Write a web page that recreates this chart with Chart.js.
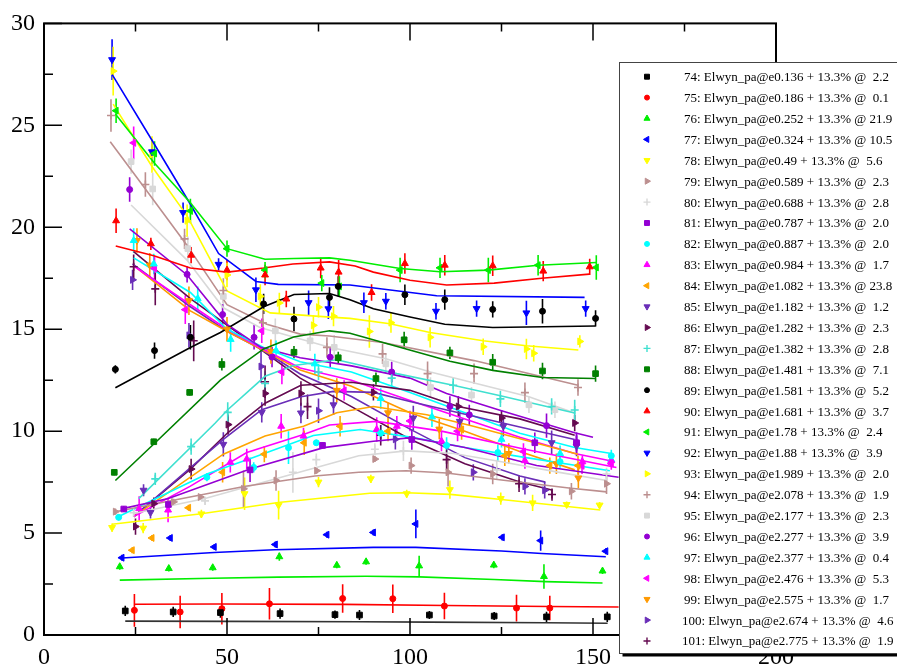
<!DOCTYPE html>
<html>
<head>
<meta charset="utf-8">
<script src="https://cdn.jsdelivr.net/npm/chart.js@4.4.1/dist/chart.umd.min.js"></script>
<style>
  html, body { margin: 0; padding: 0; background: #fff; }
  #wrap { position: relative; width: 897px; height: 666px; }
</style>
</head>
<body>
<div id="wrap"><canvas id="xsChart"></canvas></div>
<script>
// measured points: [angle, value, error]; fit curves: [angle, value]
const d74 = [[22.2,1.18,0.25],[35.3,1.13,0.25],[48.2,1.1,0.25],[64.5,1.05,0.25],[79.5,1.0,0.2],[86.2,0.98,0.25],[105.3,0.98,0.2],[123,0.93,0.2],[137.3,0.89,0.25],[153.9,0.89,0.25]];
const f74 = [[22.2,0.68],[50,0.67],[86,0.65],[105,0.63],[137,0.6],[154,0.58]];
const d75 = [[24.7,1.21,0.8],[37.2,1.13,0.8],[48.6,1.29,0.77],[61.6,1.53,0.77],[81.6,1.79,0.7],[95.3,1.78,0.7],[109.4,1.42,0.65],[129.1,1.32,0.66],[138.2,1.32,0.6]];
const f75 = [[24.7,1.51],[48,1.52],[82,1.5],[110,1.45],[138,1.4],[157,1.37]];
const d76 = [[20.7,3.35,0.15],[34.1,3.26,0.15],[46.1,3.3,0.15],[64.3,3.84,0.2],[80,3.42,0.15],[88,3.59,0.15],[102.5,3.39,0.5],[122.9,3.43,0.15],[136.6,2.87,0.6],[152.6,3.14,0.15]];
const f76 = [[20.7,2.69],[46,2.78],[64,2.84],[88,2.88],[102.5,2.85],[123,2.72],[137,2.62],[152.6,2.55]];
const d77 = [[21.3,3.79,0.15],[34.5,4.76,0.15],[46.5,4.32,0.12],[63.2,4.44,0.15],[77.3,4.92,0.15],[90,5.03,0.15],[101.6,5.45,0.7],[125.2,4.79,0.15],[135.7,4.63,0.5],[153.5,4.11,0.15]];
const f77 = [[21.3,3.78],[46.5,4.05],[63,4.18],[90,4.3],[101.6,4.3],[125,4.12],[136,4.0],[153.5,3.84]];
const d78 = [[18.6,5.27,0.2],[27.1,5.24,0.25],[43,5.94,0.2],[54.8,6.93,0.8],[64.1,6.37,0.7],[75,7.5,0.25],[89.3,7.66,0.2],[99.1,6.93,0.2],[110.9,7.13,0.45],[124.8,6.69,0.3],[133.5,6.48,0.4],[142.8,6.4,0.15],[151.8,6.37,0.15]];
const f78 = [[18.6,5.43],[43,5.95],[64,6.5],[89,6.95],[99,6.98],[111,6.9],[125,6.65],[143,6.3],[152,6.13]];
const d79 = [[19.5,6.05,0.15],[35.4,6.53,0.15],[42.7,6.77,0.15],[54.5,7.17,0.9],[63.4,7.58,0.5],[74.5,8.06,0.15],[90.4,8.63,0.15],[100.3,8.31,0.4],[110.4,7.98,0.7],[122.6,7.9,0.5],[144.1,7.05,0.4],[153.7,7.42,0.5]];
const f79 = [[19.5,6.05],[35,6.6],[55,7.3],[74,7.8],[86,7.98],[99,8.06],[110,7.95],[125,7.6],[144,7.2],[153.7,7.02]];
const d80 = [[24.5,6.0,0.2],[44,6.58,0.2],[68,7.98,1.0],[74.4,8.6,0.3],[90.4,9.11,0.3],[98.2,9.03,0.5],[123.7,8.1,0.5],[153.7,7.9,0.3]];
const f80 = [[24.5,5.96],[44,6.7],[68,7.9],[86,8.79],[99,9.03],[112,8.9],[125,8.5],[140,8.0],[153.7,7.58]];
const d81 = [[21.8,6.18,0.15],[34,6.4,0.2],[56.3,8.1,0.6],[76.1,9.3,0.15],[100.5,9.59,0.5],[134.1,9.43,0.5],[145.5,9.43,0.4]];
const f81 = [[21.8,6.21],[34,6.7],[56.3,8.14],[76.4,9.19],[90,9.5],[100.5,9.68],[115,9.2],[134.6,8.31],[157,7.74]];
const d82 = [[20.4,5.77,0.15],[44.5,7.74,0.2],[57.3,8.22,0.25],[66.8,9.19,0.8],[74.4,9.43,0.15],[92,9.9,0.4],[110,9.3,0.4],[124,8.95,0.4],[141,8.5,0.3],[155,8.79,0.3]];
const f82 = [[20.4,5.81],[44.5,7.9],[57,8.7],[73.6,9.79],[86.4,10.08],[101,9.68],[115,9.2],[130,8.75],[154.6,8.06]];
const d83 = [[26,6.2,0.6],[33.9,6.13,0.6],[50.9,8.47,0.5],[55.4,8.63,0.5],[64.8,10.24,0.6],[70.9,9.76,0.4],[90.9,10.08,0.6],[96.4,10.24,0.5],[108.6,9.51,0.5],[131.4,8.55,0.4],[147.1,8.5,0.3],[155,8.55,0.3]];
const f83 = [[24.5,5.81],[40,7.3],[55.4,8.95],[70.9,9.84],[78,10.3],[90.9,10.48],[108.6,10.0],[131.4,9.11],[156.4,8.22]];
const d84 = [[24.1,4.16,0.15],[29.5,4.76,0.15],[39.5,6.24,0.15],[48.8,7.98,0.5],[60.2,8.87,0.4],[71.1,9.43,0.6],[80.9,10.24,0.5],[94,10.0,0.5],[114.1,10.08,0.5],[125.9,8.79,0.5],[138.2,8.31,0.4],[145.9,8.31,0.5]];
const f84 = [[24.5,5.81],[49,8.87],[60.4,9.76],[70.9,10.24],[80,10.9],[90,11.21],[104.6,10.8],[117.3,10.24],[145.9,8.87]];
const d85 = [[27.2,7.1,0.3],[29.1,6.01,0.3],[49,9.35,0.6],[59.5,10.92,0.5],[70.2,10.89,0.5],[79.1,11.29,0.5],[100.9,10.64,0.6],[113.6,10.48,0.5],[125.5,10.24,0.5],[138.7,9.43,0.6],[145.5,9.27,0.5]];
const f85 = [[24.5,5.81],[49,9.59],[59.5,11.05],[70.2,11.69],[79.1,11.95],[90,11.9],[100,11.45],[113.6,10.89],[130,10.2],[145,9.59]];
const d86 = [[25,5.32,0.4],[30,6.45,0.3],[40.2,8.14,0.5],[50.3,10.32,0.5],[60.4,11.85,0.6],[70.2,11.85,0.6],[90,11.9,0.4],[113.2,11.21,0.5],[125,10.64,0.4],[145,10.4,0.4]];
const f86 = [[24.5,5.81],[40,8.14],[50.2,9.92],[60.4,11.37],[70.2,12.25],[84,12.4],[100,12.0],[113.2,11.21],[130,10.6],[145,9.8]];
const d87 = [[30.4,7.66,0.3],[40.2,9.24,0.4],[50.2,10.92,0.5],[60.4,12.34,0.6],[75,12.9,0.4],[95,12.6,0.4],[111.8,12.25,0.4],[124.7,11.58,0.4],[138.7,11.21,0.4],[145,11.04,0.5]];
const f87 = [[25.9,6.69],[46.8,10.4],[50.2,11.05],[60.4,12.69],[68.2,13.22],[80,13.5],[96.4,12.82],[111.8,12.25],[124.7,11.74],[145,10.89]];
const d88 = [[19.2,7.98,0.15],[30,9.48,0.15],[39.8,11.9,0.15],[48.6,13.27,0.3],[68.3,13.87,0.3],[80.4,13.6,0.3],[90.7,12.58,0.3],[98.4,14.48,0.4],[110.9,13.84,0.3],[122.6,13.38,0.4],[136.2,12.95,0.4],[150.7,12.82,0.4]];
const f88 = [[19.5,7.58],[31.3,9.59],[48.2,12.5],[60,14.03],[68.2,14.62],[78,14.92],[83.6,14.8],[90.9,14.43],[110.9,13.43],[122.6,12.98],[136.2,12.63],[150.7,12.58]];
const d89 = [[19.5,13.03,0.2],[30.2,13.95,0.4],[40,14.6,0.6],[60,16.24,0.5],[68.3,15.5,0.6],[78,16.56,0.5],[80.4,17.1,0.5],[98.6,16.69,0.5],[109.5,16.45,0.5],[122.6,15.97,0.4],[136.2,15.88,0.6],[150.7,15.53,0.4]];
const f89 = [[19.5,12.13],[40,14.1],[48.2,14.84],[60,16.1],[68.3,16.7],[78,16.75],[83.6,16.45],[90,16.0],[100,15.6],[109.5,15.24],[122.6,15.08],[150.7,15.16]];
const d90 = [[19.7,20.32,0.6],[29.2,19.19,0.3],[40.2,18.63,0.4],[50,17.9,0.5],[60.4,17.66,0.5],[66.2,16.48,0.4],[75.6,18.0,0.5],[80.5,17.8,0.6],[89.5,16.8,0.4],[98.6,18.22,0.5],[109.5,18.14,0.5],[122.6,18.11,0.5],[136.4,17.85,0.5],[149.1,18.06,0.4]];
const f90 = [[19.6,19.08],[30,18.6],[40,18.0],[50,17.8],[60,18.0],[68,18.2],[78,18.3],[85,18.1],[90,17.8],[100,17.4],[110,17.17],[123,17.26],[136,17.5],[149,17.7]];
const d91 = [[19.7,25.72,0.6],[30.2,23.62,0.6],[40,20.8,0.6],[50,18.95,0.4],[60.4,17.9,0.4],[75.9,17.26,0.4],[80.7,17.1,0.5],[97.3,17.9,0.6],[108.2,18.01,0.5],[121.4,17.9,0.6],[135,18.14,0.5],[150.9,18.03,0.6]];
const f91 = [[19.5,25.56],[30.2,23.14],[40,21.2],[50,18.95],[60.4,18.43],[68.3,18.47],[78,18.5],[83.6,18.38],[97.3,17.98],[108.2,17.82],[121.4,17.9],[135,18.14],[150.9,18.27]];
const d92 = [[18.6,28.22,1.0],[29.5,23.7,0.6],[38,20.72,0.5],[47.7,18.18,0.3],[57.9,16.93,0.6],[72.3,16.3,0.6],[77.7,16.0,0.5],[87.4,16.3,0.5],[93.4,16.37,0.4],[107.1,15.88,0.4],[118.2,16.01,0.4],[131.8,15.8,0.6],[148,16.01,0.4]];
const f92 = [[18.6,27.5],[29.5,24.27],[40,21.13],[47.7,18.71],[57.9,17.34],[64,17.2],[83.6,17.17],[107.3,16.64],[147.7,16.56]];
const d93 = [[18.9,27.66,1.2],[29.5,23.57,0.9],[39.1,20.32,0.8],[50,17.66,0.6],[59.1,16.61,0.6],[64.3,16.29,0.5],[73.6,15.19,0.5],[75,16.08,0.5],[79.1,15.64,0.5],[88.9,14.89,0.8],[94.8,15.32,0.5],[105.5,14.6,0.5],[120,14.14,0.4],[131.8,14.03,0.5],[133.8,13.82,0.4],[146.4,14.4,0.3]];
const f93 = [[18.9,26.04],[29.5,22.98],[39.1,20.56],[50,16.88],[61.8,15.8],[78.2,15.59],[83.6,15.53],[94.5,15.27],[105.5,14.84],[120,14.43],[131.8,14.19],[146,13.98]];
const d94 = [[18.3,25.48,0.8],[27.7,22.1,0.6],[38.4,19.43,0.5],[49,16.9,0.6],[59.8,15.32,0.6],[77.3,14.11,0.5],[92.5,13.79,0.5],[104.8,12.82,0.6],[117.5,12.82,0.5],[131.4,11.89,0.5],[145.9,12.14,0.4]];
const f94 = [[18.1,24.19],[27.2,22.0],[39.1,19.11],[50,16.2],[60.9,15.24],[70,14.76],[78,14.67],[92.5,14.35],[117.5,13.46],[145.9,12.25]];
const d95 = [[23.8,23.22,0.6],[29.7,21.88,0.8],[39.3,18.95,0.6],[49,16.61,0.6],[63.2,14.92,0.6],[72.7,14.43,0.5],[79.3,14.11,0.6],[93.4,13.3,0.5],[105.6,12.14,0.5],[116.8,11.77,0.4],[132.5,11.29,0.4],[139.6,11.05,0.4]];
const f95 = [[23.8,21.09],[39,18.4],[49,16.05],[59,15.08],[78,14.11],[93.4,13.55],[105.6,12.9],[132.5,11.69],[145,10.89]];
const d96 = [[23.4,21.85,0.6],[39.1,17.69,0.4],[48.8,15.72,0.5],[57.4,14.6,0.6],[62.3,13.63,0.5],[78.2,13.63,0.5],[95,12.9,0.5],[110.9,11.21,0.5],[116.2,10.8,0.5],[137.3,10.27,0.6],[145.5,9.43,0.5]];
const f96 = [[23.4,19.92],[39.1,17.66],[50,15.24],[59.3,14.11],[70,13.6],[84,13.2],[100,12.6],[110,11.85],[125,11.0],[145,9.92],[150,9.7]];
const d97 = [[24.5,19.35,0.6],[30,18.2,0.5],[42,16.5,0.6],[51,14.5,0.6],[63.4,13.95,0.5],[74,13.3,0.5],[92,11.6,0.5],[106,10.7,0.5],[125,9.6,0.4],[141,8.9,0.4],[155,8.6,0.3]];
const f97 = [[24.5,18.5],[40,16.8],[50,15.0],[60,14.1],[70,13.4],[84,12.9],[100,11.9],[115,10.9],[130,9.9],[145,9.2],[155,8.9]];
const d98 = [[24.5,24.14,0.8],[30.2,17.98,0.6],[38.6,15.96,0.7],[59.5,14.92,0.6],[65,12.9,0.6],[82,12.0,0.5],[100,10.5,0.5],[113,10.0,0.5],[131,9.0,0.4],[147,8.3,0.4],[155,8.4,0.3]];
const f98 = [[24.5,18.1],[40,16.2],[50,15.0],[59,14.1],[70,13.1],[84,12.5],[100,11.5],[115,10.6],[130,9.7],[145,8.9],[156,8.5]];
const d99 = [[25.4,19.35,0.6],[28.9,18.14,0.6],[39.6,16.4,0.7],[50,15.0,0.6],[62,13.9,0.6],[80,12.0,0.6],[94,10.9,0.5],[108,10.1,0.5],[127,8.9,0.5],[140,8.4,0.5],[146,7.7,0.5]];
const f99 = [[25.4,18.0],[40,15.9],[50,14.9],[59,14.05],[70,13.0],[84,12.2],[100,10.9],[115,10.0],[130,9.0],[145,8.1]];
const d100 = [[24.2,17.42,0.5],[39.6,14.7,0.6],[59.3,13.17,0.8],[75,11.0,0.6],[96,9.6,0.5],[117.3,7.98,0.4],[131.4,7.29,0.4],[136.8,7.1,0.4]];
const f100 = [[24.2,18.2],[40,16.1],[50,14.9],[59,14.05],[70,12.8],[84,11.7],[100,10.1],[115,8.7],[130,7.8],[137,7.5]];
const d101 = [[24.5,18.06,0.6],[30.4,16.98,0.8],[40.9,14.43,1.0],[60.4,12.42,0.8],[72,11.2,0.6],[92,9.8,0.5],[110,8.6,0.5],[129.8,7.42,0.4],[138.8,6.89,0.3]];
const f101 = [[24.5,18.8],[40,16.5],[50,15.2],[59,14.03],[70,12.6],[84,11.2],[100,9.6],[115,8.4],[130,7.5],[139,7.1]];

const runIds = [74,75,76,77,78,79,80,81,82,83,84,85,86,87,88,89,90,91,92,93,94,95,96,97,98,99,100,101];
const energies = ['0.136','0.186','0.252','0.324','0.49','0.589','0.688','0.787','0.887','0.984','1.082','1.182','1.282','1.382','1.481','1.581','1.681','1.78','1.88','1.989','2.078','2.177','2.277','2.377','2.476','2.575','2.674','2.775'];
const chiValues = [2.2,0.1,21.9,10.5,5.6,2.3,2.8,2.0,2.0,1.7,23.8,1.2,2.3,2.8,7.1,5.2,3.7,2.4,3.9,2.0,1.9,2.3,3.9,0.4,5.3,1.7,4.6,1.9];
const xTicks = [0, 50, 100, 150, 200];
const yTicks = [0, 5, 10, 15, 20, 25, 30];

const points = [d74,d75,d76,d77,d78,d79,d80,d81,d82,d83,d84,d85,d86,d87,d88,d89,d90,d91,d92,d93,d94,d95,d96,d97,d98,d99,d100,d101];
const fits = [f74,f75,f76,f77,f78,f79,f80,f81,f82,f83,f84,f85,f86,f87,f88,f89,f90,f91,f92,f93,f94,f95,f96,f97,f98,f99,f100,f101];

const palette = ['#000000','#ff0000','#00ee00','#0000ff','#ffff00','#bc8f8f','#d8d8d8',
                 '#9400d3','#00ffff','#ff00ff','#ffa500','#6a2eb8','#640a50','#40e0d0',
                 '#008000','#000000','#ff0000','#00ee00','#0000ff','#ffff00','#bc8f8f',
                 '#d8d8d8','#9400d3','#00ffff','#ff00ff','#ff9900','#6a2eb8','#640a50'];

// marker cycle: square, circle, up, left, down, right, plus
const markerCycle = [
  { style: 'rect', rot: 0, r: 4 },
  { style: 'circle', rot: 0, r: 3 },
  { style: 'triangle', rot: 0, r: 4 },
  { style: 'triangle', rot: -90, r: 4 },
  { style: 'triangle', rot: 180, r: 4 },
  { style: 'triangle', rot: 90, r: 4 },
  { style: 'cross', rot: 0, r: 4 }
];

function legendLabel(i) {
  return runIds[i] + ': Elwyn_pa@e' + energies[i] + ' + 13.3% @ ' + chiValues[i].toFixed(1).padStart(4, ' ');
}

const datasets = [];
runIds.forEach((id, i) => {
  const m = markerCycle[i % 7];
  datasets.push({
    type: 'line',
    label: 'fit ' + id,
    data: fits[i].map(p => ({ x: p[0], y: p[1] })),
    borderColor: i === 0 ? '#333' : palette[i],
    borderWidth: 1.6,
    pointRadius: 0,
    fill: false,
    tension: 0,
    order: 2
  });
  datasets.push({
    type: 'scatter',
    label: legendLabel(i),
    data: points[i].map(p => ({ x: p[0], y: p[1], err: p[2] })),
    pointStyle: m.style,
    rotation: m.rot,
    pointRadius: m.r,
    backgroundColor: palette[i],
    borderColor: palette[i],
    borderWidth: m.style === 'cross' ? 1.6 : 1,
    isData: true,
    order: 1
  });
});

// vertical error bars under the markers
const errorBars = {
  id: 'errorBars',
  beforeDatasetsDraw(chart) {
    const ctx = chart.ctx, ys = chart.scales.y, a = chart.chartArea;
    ctx.save();
    ctx.beginPath();
    ctx.rect(a.left, a.top, a.right - a.left, a.bottom - a.top);
    ctx.clip();
    ctx.lineWidth = 1.6;
    chart.data.datasets.forEach((ds, di) => {
      if (!ds.isData) return;
      const meta = chart.getDatasetMeta(di);
      ctx.strokeStyle = ds.borderColor;
      meta.data.forEach((el, k) => {
        const v = ds.data[k];
        ctx.beginPath();
        ctx.moveTo(el.x, ys.getPixelForValue(v.y - v.err));
        ctx.lineTo(el.x, ys.getPixelForValue(v.y + v.err));
        ctx.stroke();
      });
    });
    ctx.restore();
  }
};

// frame with inward ticks on all visible sides
const frame = {
  id: 'frame',
  afterDatasetsDraw(chart) {
    const ctx = chart.ctx, xs = chart.scales.x, ys = chart.scales.y, a = chart.chartArea;
    ctx.save();
    ctx.strokeStyle = '#000';
    ctx.lineWidth = 2;
    ctx.strokeRect(a.left, a.top, a.right - a.left, a.bottom - a.top);
    ctx.lineWidth = 1.5;
    ctx.beginPath();
    for (let v = 0; v <= 200; v += 25) {
      const px = xs.getPixelForValue(v);
      const len = v % 50 === 0 ? 17 : 8;
      ctx.moveTo(px, a.bottom); ctx.lineTo(px, a.bottom - len);
      ctx.moveTo(px, a.top); ctx.lineTo(px, a.top + len);
    }
    for (let v = 0; v <= 30; v += 2.5) {
      const py = ys.getPixelForValue(v);
      const len = v % 5 === 0 ? 18 : 9;
      ctx.moveTo(a.left, py); ctx.lineTo(a.left + len, py);
    }
    ctx.stroke();
    ctx.restore();
  }
};

// boxed legend drawn over the right part of the frame
const boxLegend = {
  id: 'boxLegend',
  afterDraw(chart) {
    const ctx = chart.ctx;
    const left = 619.5, top = 62.5, bottom = 653.5, right = 905;
    ctx.save();
    ctx.fillStyle = '#000';
    ctx.fillRect(left + 3, top + 3, right - left, bottom - top);
    ctx.fillStyle = '#fff';
    ctx.fillRect(left, top, right - left, bottom - top);
    ctx.strokeStyle = '#444';
    ctx.lineWidth = 1;
    ctx.strokeRect(left, top, right - left, bottom - top);
    ctx.font = '13px "Liberation Serif", "Times New Roman", serif';
    ctx.textBaseline = 'middle';
    ctx.textAlign = 'left';
    runIds.forEach((id, i) => {
      const y = 76.7 + i * 20.9;
      const m = markerCycle[i % 7];
      ctx.fillStyle = palette[i];
      ctx.strokeStyle = palette[i];
      ctx.lineWidth = m.style === 'cross' ? 1.4 : 1;
      Chart.helpers.drawPoint(ctx, { pointStyle: m.style, rotation: m.rot, radius: m.r - 0.5, borderWidth: 1 }, 647, y);
      ctx.fillStyle = '#000';
      ctx.fillText(legendLabel(i), id >= 100 ? 682 : 684, y + 1);
    });
    ctx.restore();
  }
};

new Chart(document.getElementById('xsChart'), {
  data: { datasets },
  options: {
    responsive: true,
    maintainAspectRatio: false,
    animation: false,
    events: [],
    layout: { padding: { top: 15, right: 121, left: 0, bottom: 0 } },
    plugins: { legend: { display: false }, tooltip: { enabled: false } },
    scales: {
      x: {
        type: 'linear',
        min: 0, max: 200,
        afterFit: s => { s.height = 31; },
        afterBuildTicks: s => { s.ticks = xTicks.map(v => ({ value: v })); },
        grid: { display: false, drawTicks: false },
        border: { display: false },
        ticks: { color: '#000', padding: 8, maxRotation: 0, font: { family: '"Liberation Serif", serif', size: 24 } }
      },
      y: {
        type: 'linear',
        min: 0, max: 30,
        afterFit: s => { s.width = 44; },
        afterBuildTicks: s => { s.ticks = yTicks.map(v => ({ value: v })); },
        grid: { display: false, drawTicks: false },
        border: { display: false },
        ticks: { color: '#000', padding: 9, font: { family: '"Liberation Serif", serif', size: 24 } }
      }
    }
  },
  plugins: [errorBars, frame, boxLegend]
});
</script>
</body>
</html>
